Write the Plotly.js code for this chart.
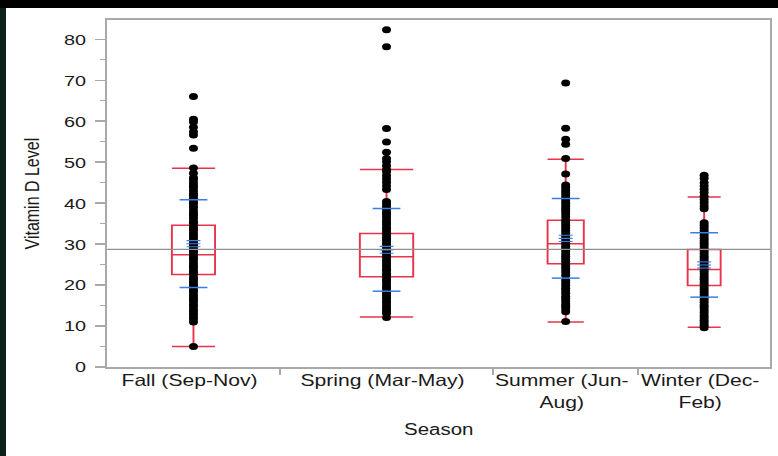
<!DOCTYPE html>
<html>
<head>
<meta charset="utf-8">
<script src="https://cdn.plot.ly/plotly-3.0.1.min.js"></script>
<style>
html, body { margin:0; padding:0; width:778px; height:456px; overflow:hidden; background:#0c2119; }
#topband { position:absolute; left:0; top:0; width:778px; height:8px; background:#000; }
#wrap { position:absolute; left:6px; top:8px; width:772px; height:448px; background:#fff; overflow:hidden; }
#chart { width:603px; height:448px; transform:scaleX(1.28); transform-origin:0 0; }
</style>
</head>
<body>
<div id="topband"></div>
<div id="wrap"><div id="chart"></div></div>
<script>
// ---- data ----
const categories = ['Fall (Sep-Nov)', 'Spring (Mar-May)', 'Summer (Jun-Aug)', 'Winter (Dec-Feb)'];
const tickLabels = ['Fall (Sep-Nov)', 'Spring (Mar-May)', 'Summer (Jun-<br>Aug)', 'Winter (Dec-<br>Feb)'];
const groupN = [174, 215, 146, 133];          // group sizes (category widths are proportional)
const q1 = [22.6, 22.0, 25.2, 19.9];
const medians = [27.4, 26.9, 30.1, 23.8];
const q3 = [34.6, 32.6, 35.8, 28.7];
const lowerWhisker = [5.0, 12.2, 11.0, 9.7];
const upperWhisker = [48.5, 48.2, 50.7, 41.5];
const means = [30.1, 28.6, 31.4, 24.9];
const sds = [10.7, 10.1, 9.7, 7.85];
const ses = [0.75, 0.85, 0.75, 0.75];
const grandMean = 28.7;
const yTicks = [0, 10, 20, 30, 40, 50, 60, 70, 80];

const fallValues = [66.0, 60.5, 59.8, 58.5, 57.4, 56.6, 53.4, 48.6, 47.3, 46.2, 45.7, 45.0, 44.3, 43.8,
  43.1, 42.4, 41.9, 41.2, 40.5, 40.0, 39.3, 38.8, 38.1, 37.4, 36.9, 36.3, 35.6, 35.1, 34.4, 33.8,
  33.3, 32.6, 32.0, 31.5, 30.8, 30.2, 29.7, 29.0, 28.4, 27.9, 27.2, 26.6, 26.1, 25.4, 24.8, 24.3,
  23.6, 23.0, 22.5, 21.8, 21.3, 20.6, 20.0, 19.5, 18.8, 18.3, 17.6, 17.0, 16.4, 15.9, 15.2, 14.7,
  14.0, 13.4, 12.9, 12.2, 11.7, 11.0, 5.0];
const springValues = [82.3, 78.2, 58.2, 54.9, 52.4, 50.9, 50.1, 49.1, 48.2, 47.6, 46.7, 45.9, 45.1,
  44.2, 43.3, 40.4, 39.8, 39.1, 38.5, 37.8, 37.2, 36.6, 35.9, 35.3, 34.7, 34.0, 33.5, 32.8, 32.2,
  31.6, 31.0, 30.3, 29.8, 29.1, 28.5, 27.9, 27.2, 26.7, 26.0, 25.4, 24.8, 24.1, 23.6, 22.9, 22.3,
  21.7, 21.1, 20.5, 19.8, 19.3, 18.6, 18.0, 17.4, 16.8, 16.1, 15.6, 14.9, 14.3, 13.7, 13.1, 12.1];
const summerValues = [69.3, 58.3, 55.6, 54.4, 50.9, 47.1, 44.4, 43.8, 43.1, 42.5, 41.8, 41.2, 40.6,
  40.0, 39.3, 38.7, 38.1, 37.4, 36.7, 35.8, 35.2, 34.6, 33.9, 33.3, 32.7, 32.0, 31.4, 30.8, 30.2,
  29.5, 28.9, 28.3, 27.6, 27.0, 26.4, 25.8, 25.1, 24.5, 23.9, 23.2, 22.4, 21.2, 20.5, 19.9, 19.2,
  18.6, 18.0, 17.3, 16.7, 16.1, 15.4, 14.8, 14.2, 13.5, 11.1];
const winterValues = [46.8, 46.1, 45.0, 44.2, 43.4, 42.6, 41.7, 40.9, 40.1, 39.3, 38.6, 35.2, 34.6,
  34.0, 33.3, 32.7, 32.1, 31.4, 30.8, 30.2, 29.6, 28.9, 28.3, 27.7, 27.0, 26.4, 25.8, 25.2, 24.5,
  23.9, 23.3, 22.7, 22.0, 21.4, 20.8, 20.2, 19.5, 18.9, 18.3, 17.7, 17.0, 16.4, 15.8, 15.1, 14.5,
  13.9, 13.3, 12.6, 12.0, 11.4, 10.8, 10.2, 9.6];
const groupValues = [fallValues, springValues, summerValues, winterValues];

// ---- layout helpers ----
const RED = '#e8334c', BLUE = '#3a7de6', GRAY = '#a9a9a9';
const total = groupN.reduce((a, b) => a + b, 0);
const bounds = []; const centers = [];
let acc = 0;
groupN.forEach((n, i) => { centers.push(acc + n / 2); acc += n; if (i < groupN.length - 1) bounds.push(acc); });
const labelShift = -4;
const labelPos = centers.map(c => c + labelShift);

const traces = [];
// grand mean line (on overlay axis carrying the boundary ticks)
traces.push({ type:'scatter', mode:'lines', xaxis:'x2', yaxis:'y', x:[0, total], y:[grandMean, grandMean],
  line:{ color:'#8f8f8f', width:1.4 }, hoverinfo:'skip', showlegend:false });
// points
const px = [], py = [];
groupValues.forEach((vals, i) => vals.forEach(v => { px.push(centers[i]); py.push(v); }));
traces.push({ type:'scatter', mode:'markers', x:px, y:py, marker:{ color:'#000', size:7 },
  hoverinfo:'skip', showlegend:false });
// outlier boxes
categories.forEach((c, i) => {
  traces.push({ type:'box', orientation:'v', name:c, x:[centers[i]], q1:[q1[i]], median:[medians[i]], q3:[q3[i]],
    lowerfence:[lowerWhisker[i]], upperfence:[upperWhisker[i]], width: groupN[i] * 0.25, whiskerwidth:1,
    boxpoints:false, fillcolor:'rgba(0,0,0,0)', line:{ color:RED, width:1.5 }, hoverinfo:'skip', showlegend:false });
});
// std dev lines
const sx = [], sy = [], mx = [], my = [];
const sdHalf = 14, meanHalf = 7;
centers.forEach((c, i) => {
  [means[i] + sds[i], means[i] - sds[i]].forEach(v => { sx.push(c - sdHalf, c + sdHalf, null); sy.push(v, v, null); });
  [means[i] + ses[i], means[i], means[i] - ses[i]].forEach(v => { mx.push(c - meanHalf, c + meanHalf, null); my.push(v, v, null); });
});
traces.push({ type:'scatter', mode:'lines', x:sx, y:sy, line:{ color:BLUE, width:1.5 }, hoverinfo:'skip', showlegend:false });
// mean error bars
traces.push({ type:'scatter', mode:'lines', x:mx, y:my, line:{ color:BLUE, width:1.1 }, hoverinfo:'skip', showlegend:false });

const FONT = 'Liberation Sans, Arial, Helvetica, sans-serif';
const layout = {
  width:603, height:448,
  margin:{ l:79, r:6, t:12, b:89 },
  paper_bgcolor:'#fff', plot_bgcolor:'#fff',
  showlegend:false, hovermode:false, boxmode:'overlay',
  font:{ family:FONT, color:'#1a1a1a', size:15.5 },
  xaxis:{ range:[0, total], tickmode:'array', tickvals:labelPos, ticktext:tickLabels, ticks:'',
    showgrid:false, zeroline:false, showline:true, linecolor:GRAY, linewidth:1.6, mirror:true,
    tickfont:{ family:FONT, size:16.5, color:'#1a1a1a' }, ticklabelstandoff:-2, fixedrange:true },
  xaxis2:{ overlaying:'x', range:[0, total], tickmode:'array', tickvals:bounds, ticks:'outside', ticklen:7,
    tickcolor:GRAY, tickwidth:1.3, showticklabels:false, showgrid:false, zeroline:false, showline:false, side:'bottom' },
  yaxis:{ range:[0, 84.7], tickmode:'array', tickvals:yTicks, ticks:'outside', ticklen:7.8, tickcolor:GRAY, tickwidth:1.4,
    minor:{ dtick:5, tick0:0, ticks:'outside', ticklen:3.9, tickcolor:GRAY, tickwidth:1.4, showgrid:false },
    showgrid:false, zeroline:false, showline:true, linecolor:GRAY, linewidth:1.6, mirror:true,
    tickfont:{ family:FONT, size:15.5, color:'#1a1a1a' }, ticklabelstandoff:4, fixedrange:true },
  annotations:[
    { text:'Vitamin D Level', xref:'paper', yref:'paper', x:0, y:0.5, xanchor:'center', yanchor:'middle',
      xshift:-59, textangle:-90, showarrow:false, font:{ family:FONT, size:16, color:'#1a1a1a' } },
    { text:'Season', xref:'paper', yref:'paper', x:0.5, y:0, xanchor:'center', yanchor:'middle',
      yshift:-62, showarrow:false, font:{ family:FONT, size:16, color:'#1a1a1a' } }
  ]
};
Plotly.newPlot('chart', traces, layout, { displayModeBar:false, staticPlot:true });
</script>
</body>
</html>
